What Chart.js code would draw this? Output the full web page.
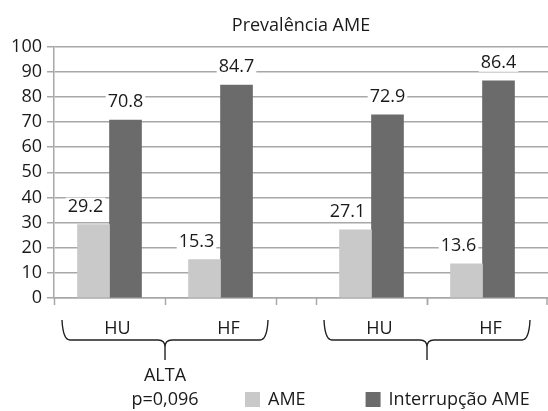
<!DOCTYPE html>
<html>
<head>
<meta charset="utf-8">
<script src="https://cdn.jsdelivr.net/npm/chart.js@4.4.1/dist/chart.umd.min.js"></script>
<style>
  body { margin: 0; background: #fff; }
</style>
</head>
<body>
<canvas id="ame" width="548" height="411"></canvas>
<script>
// values
const categories = ['HU', 'HF', 'HU', 'HF'];
const seriesNames = ['AME', 'Interrupção AME'];
const ameValues = [29.2, 15.3, 27.1, 13.6];
const interrValues = [70.8, 84.7, 72.9, 86.4];
const groupLabels = [['ALTA', 'p=0,096'], []];
const yMin = 0, yMax = 100, yStep = 10;

const FONT = '"Open Sans", sans-serif';
const ink = '#1a1a1a';
const grey = '#a8a8a8';
const pairGap = 0.36;   // extra space between the two HU/HF pairs

// x slot of category i on the linear axis
function slot(i) {
  return i + 1 + (i >= 2 ? pairGap : 0);
}

Chart.defaults.font.family = FONT;
Chart.defaults.color = ink;

const extras = {
  id: 'extras',
  afterDatasetsDraw(chart) {
    // value labels on a white box, like the excel ones
    const ctx = chart.ctx;
    ctx.save();
    ctx.font = '18px ' + FONT;
    ctx.textAlign = 'center';
    ctx.textBaseline = 'middle';
    chart.data.datasets.forEach((ds, di) => {
      chart.getDatasetMeta(di).data.forEach((bar, i) => {
        const txt = ds.data[i].y.toFixed(1);
        const w = ctx.measureText(txt).width;
        const x = bar.x + (di === 0 ? -8 : 0);
        const y = bar.y - 18;
        ctx.fillStyle = '#fff';
        ctx.fillRect(x - w / 2 - 2, y - 9, w + 4, 18);
        ctx.fillStyle = ink;
        ctx.fillText(txt, x, y);
      });
    });
    ctx.restore();
  },
  afterDraw(chart) {
    const ctx = chart.ctx;
    const xs = chart.scales.x;
    const base = chart.chartArea.bottom;
    ctx.save();

    // tick marks on category edges (last one sits at the axis end)
    const edges = new Set();
    categories.forEach((c, i) => {
      edges.add(slot(i) - 0.5);
      if (i < categories.length - 1) edges.add(slot(i) + 0.5);
    });
    edges.add(xs.max);
    ctx.strokeStyle = grey;
    ctx.lineWidth = 1.5;
    edges.forEach(e => {
      const px = Math.min(Math.round(xs.getPixelForValue(e)) + 0.5, chart.width - 1);
      ctx.beginPath();
      ctx.moveTo(px, base);
      ctx.lineTo(px, base + 7);
      ctx.stroke();
    });

    // braces under each pair + group text
    ctx.strokeStyle = '#222';
    ctx.lineWidth = 1.4;
    ctx.font = '18px ' + FONT;
    ctx.textAlign = 'center';
    ctx.textBaseline = 'middle';
    ctx.fillStyle = ink;
    [[0, 1], [2, 3]].forEach((pair, g) => {
      const x0 = xs.getPixelForValue(slot(pair[0]) - 0.5) + 8;
      const x1 = xs.getPixelForValue(slot(pair[1]) + 0.5) - 8;
      const mid = xs.getPixelForValue((slot(pair[0]) + slot(pair[1])) / 2);
      const top = base + 22, line = base + 42, tip = base + 62;
      ctx.beginPath();
      ctx.moveTo(x0, top);
      ctx.quadraticCurveTo(x0 + 1, line, x0 + 8, line);
      ctx.lineTo(mid - 7, line);
      ctx.quadraticCurveTo(mid, line, mid, line + 7);
      ctx.lineTo(mid, tip);
      ctx.moveTo(mid, line + 7);
      ctx.quadraticCurveTo(mid, line, mid + 7, line);
      ctx.lineTo(x1 - 8, line);
      ctx.quadraticCurveTo(x1 - 1, line, x1, top);
      ctx.stroke();

      groupLabels[g].forEach((t, k) => {
        ctx.fillText(t, mid, base + 78 + k * 24);
      });
    });

    // legend
    let lx = 245;
    const ly = 400;
    ctx.textAlign = 'left';
    chart.data.datasets.forEach(ds => {
      ctx.fillStyle = ds.backgroundColor;
      ctx.fillRect(lx, ly - 8, 15, 15);
      ctx.fillStyle = ink;
      ctx.fillText(ds.label, lx + 23, ly);
      lx += 23 + ctx.measureText(ds.label).width + 60;
    });

    ctx.restore();
  }
};

const ctx = document.getElementById('ame').getContext('2d');

new Chart(ctx, {
  type: 'bar',
  data: {
    datasets: [{
      label: seriesNames[0],
      data: ameValues.map((v, i) => ({ x: slot(i), y: v })),
      backgroundColor: '#c9c9c9',
      barThickness: 32
    }, {
      label: seriesNames[1],
      data: interrValues.map((v, i) => ({ x: slot(i), y: v })),
      backgroundColor: '#6b6b6b',
      barThickness: 32
    }]
  },
  options: {
    responsive: false,
    animation: false,
    layout: { padding: 0 },
    plugins: {
      legend: { display: false },
      tooltip: { enabled: false },
      title: {
        display: true,
        text: 'Prevalência AME',
        fullSize: false,
        color: ink,
        font: { size: 18, weight: 'normal' },
        padding: { top: 15, bottom: 10 }
      }
    },
    scales: {
      x: {
        type: 'linear',
        offset: false,
        min: 0.5,
        max: slot(3) + 0.59,
        afterBuildTicks: s => { s.ticks = categories.map((c, i) => ({ value: slot(i) })); },
        afterFit: s => { s.height = 113; },
        grid: { display: false, drawTicks: false, offset: false },
        border: { display: true, color: grey, width: 1.5 },
        ticks: {
          callback: (v, i) => categories[i],
          autoSkip: false,
          maxRotation: 0,
          padding: 20,
          labelOffset: 8,
          color: ink,
          font: { size: 18 }
        }
      },
      y: {
        min: yMin,
        max: yMax,
        afterFit: s => { s.width = 54; },
        grid: { color: grey, lineWidth: 1.5, tickLength: 7 },
        border: { color: grey, width: 1.5 },
        ticks: { stepSize: yStep, padding: 5, color: ink, font: { size: 18 } }
      }
    }
  },
  plugins: [extras]
});
</script>
</body>
</html>
